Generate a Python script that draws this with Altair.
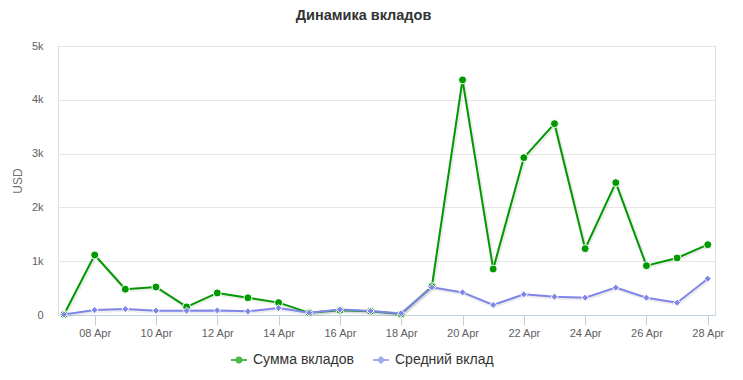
import altair as alt
import pandas as pd

# ---- data ----
dates = [f"2015-04-{d:02d}T00:00:00" for d in range(7, 29)]
sum_deposits = [10, 1115, 480, 520, 150, 410, 320, 230, 40, 90, 70, 20,
                530, 4370, 855, 2925, 3556, 1233, 2460, 917, 1060, 1307]
avg_deposit = [10, 93, 110, 80, 80, 85, 68, 130, 43, 100, 75, 30,
               515, 420, 186, 385, 340, 322, 508, 322, 229, 675]
series_names = ["Сумма вкладов", "Средний вклад"]
series_colors = ["#009900", "#8085E9"]
tick_days = [8, 10, 12, 14, 16, 18, 20, 22, 24, 26, 28]
y_ticks = [0, 1000, 2000, 3000, 4000, 5000]

rows = []
for d, v in zip(dates, sum_deposits):
    rows.append({"date": d, "value": v, "series": series_names[0]})
for d, v in zip(dates, avg_deposit):
    rows.append({"date": d, "value": v, "series": series_names[1]})
df = pd.DataFrame(rows)

FONT = "Liberation Sans"

x_enc = alt.X(
    "date:T",
    scale=alt.Scale(domain=[alt.DateTime(year=2015, month=4, date=6, hours=19, minutes=18),
                            alt.DateTime(year=2015, month=4, date=28, hours=5, minutes=40)]),
    axis=alt.Axis(
        title=None,
        values=[alt.DateTime(year=2015, month=4, date=d) for d in tick_days],
        format="%d %b",
        grid=False,
        domainColor="#C0D0E0",
        tickColor="#C0D0E0",
        tickSize=10,
        labelColor="#606060",
        labelFontSize=11,
        labelPadding=2,
        labelFont=FONT,
    ),
)
y_enc = alt.Y(
    "value:Q",
    scale=alt.Scale(domain=[0, 5000], nice=False),
    axis=alt.Axis(
        title="USD",
        values=y_ticks,
        labelExpr="datum.value == 0 ? '0' : (datum.value / 1000) + 'k'",
        domain=False,
        ticks=False,
        gridColor="#E6E6E6",
        labelColor="#606060",
        labelFontSize=11,
        labelPadding=15,
        labelFont=FONT,
        titleColor="#707070",
        titleFontSize=12,
        titleFontWeight="normal",
        titleFont=FONT,
        titlePadding=7,
    ),
)

base = alt.Chart(df)
layers = []
shapes = ["circle", "diamond"]
sizes = [64, 50]
for name, color, shp, sz in zip(series_names, series_colors, shapes, sizes):
    sub = base.transform_filter(alt.datum.series == name)
    shadow = sub.mark_line(color="#000000", strokeWidth=4, opacity=0.07,
                           xOffset=1, yOffset=1).encode(x=x_enc, y=y_enc)
    line = sub.mark_line(color=color, strokeWidth=2).encode(x=x_enc, y=y_enc)
    pts = sub.mark_point(shape=shp, filled=True, fill=color, size=sz,
                         stroke="#FFFFFF", strokeWidth=1, opacity=1).encode(x=x_enc, y=y_enc)
    layers += [shadow, line, pts]

legend_paths = [
    "M-2,0L2,0M-0.6,0A0.6,0.6 0 1,0 0.6,0A0.6,0.6 0 1,0 -0.6,0Z",
    "M-2,0L2,0M0,-0.7L0.7,0L0,0.7L-0.7,0Z",
]
leg_scale_fill = alt.Scale(domain=series_names, range=series_colors)
legend_layer = base.transform_filter("false").mark_point(filled=True).encode(
    x=x_enc,
    y=y_enc,
    fill=alt.Fill("series:N", scale=leg_scale_fill, title=None,
                  legend=alt.Legend(orient="none", direction="horizontal",
                                    legendX=174, legendY=307,
                                    symbolSize=64, symbolStrokeWidth=2,
                                    labelOffset=7, columnPadding=15,
                                    labelFont=FONT, labelFontSize=14,
                                    labelColor="#333333", padding=0)),
    stroke=alt.Stroke("series:N", scale=leg_scale_fill, title=None),
    shape=alt.Shape("series:N", scale=alt.Scale(domain=series_names, range=legend_paths),
                    title=None),
)
layers.append(legend_layer)

chart = alt.layer(*layers).properties(
    width=657,
    height=269,
    title=alt.TitleParams("Динамика вкладов", font=FONT, fontSize=14.5, fontWeight="bold",
                          color="#333333", anchor="middle", dx=-23, offset=17),
    autosize=alt.AutoSizeParams(type="none"),
    padding={"left": 50, "top": 38, "right": 20, "bottom": 57},
).configure_view(stroke=None).configure(background="#FFFFFF")

chart.save("out.html", embed_options={"renderer": "svg", "actions": False})
